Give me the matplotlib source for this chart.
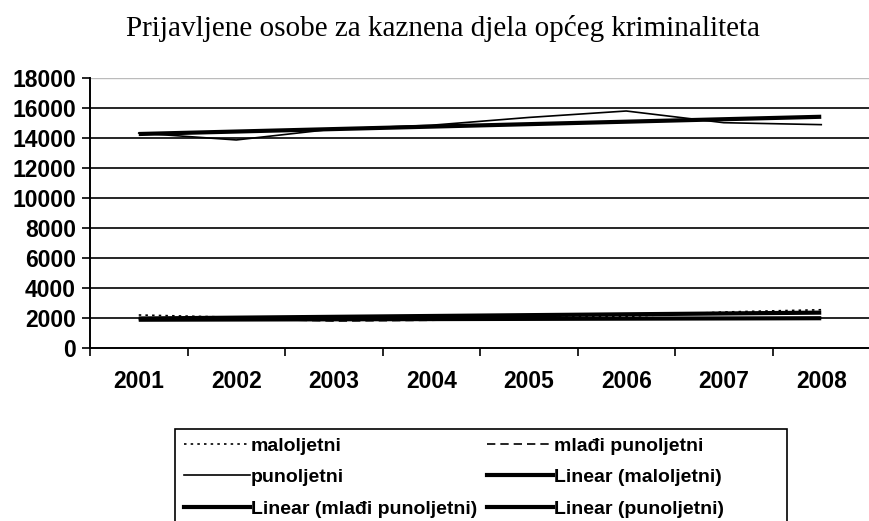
import numpy as np
import matplotlib
matplotlib.use('Agg')
import matplotlib.pyplot as plt
from matplotlib.lines import Line2D
from matplotlib.patches import Rectangle

# godine i broj prijavljenih osoba
years = ['2001', '2002', '2003', '2004', '2005', '2006', '2007', '2008']
maloljetni = [2200, 2050, 1950, 2000, 2050, 2100, 2400, 2550]
mladi_punoljetni = [1950, 1950, 1800, 1850, 1950, 2000, 1980, 2000]
punoljetni = [14330, 13870, 14600, 14850, 15370, 15800, 15020, 14890]

y_ticks = list(range(0, 18001, 2000))

plt.rcParams['font.family'] = ['Liberation Sans', 'DejaVu Sans']

W, H = 869, 521
fig = plt.figure(figsize=(W / 100, H / 100), dpi=100)
ax = fig.add_axes([90 / W, 1 - 348 / H, 780 / W, 270 / H])

x = np.arange(len(years))

# linearni trendovi
def trend(values):
    k, b = np.polyfit(x, values, 1)
    return k * x + b

ax.plot(x, trend(maloljetni), color='black', lw=3, solid_capstyle='butt', zorder=3)
ax.plot(x, trend(mladi_punoljetni), color='black', lw=3, solid_capstyle='butt', zorder=3)
ax.plot(x, trend(punoljetni), color='black', lw=3, solid_capstyle='butt', zorder=3)

ax.plot(x, maloljetni, color='black', lw=1.2, linestyle=(0, (1.5, 2.5)), zorder=4)
ax.plot(x, mladi_punoljetni, color='black', lw=1.2, linestyle=(0, (5, 3)), zorder=4)
ax.plot(x, punoljetni, color='black', lw=1.2, zorder=4)

ax.set_xlim(-0.5, len(years) - 0.5)
ax.set_ylim(0, 18000)
ax.set_yticks(y_ticks)
ax.set_yticklabels([str(v) for v in y_ticks], fontsize=16.5, fontweight='bold')
for v in y_ticks[1:-1]:
    ax.axhline(v, color='black', lw=1.2, zorder=1)
ax.axhline(18000, color='#bbbbbb', lw=1, zorder=1)

ax.set_xticks(x)
ax.set_xticklabels(years, fontsize=16.5, fontweight='bold')
ax.set_xticks(np.arange(-0.5, len(years)), minor=True)
ax.tick_params(axis='x', which='major', length=0, pad=16)
ax.tick_params(axis='x', which='minor', length=6, width=1.2, direction='out')
ax.tick_params(axis='y', length=6, width=1.2, direction='out', pad=4)

for side in ['top', 'right']:
    ax.spines[side].set_visible(False)
for side in ['left', 'bottom']:
    ax.spines[side].set_linewidth(1.4)

fig.text(443 / W, 1 - 28 / H, 'Prijavljene osobe za kaznena djela općeg kriminaliteta',
         ha='center', va='center', fontsize=21, family=['Liberation Serif', 'DejaVu Serif'])

handles = [
    Line2D([], [], color='black', lw=1.2, linestyle=(0, (1.5, 2.5))),
    Line2D([], [], color='black', lw=1.2),
    Line2D([], [], color='black', lw=3),
    Line2D([], [], color='black', lw=1.2, linestyle=(0, (5, 3))),
    Line2D([], [], color='black', lw=3),
    Line2D([], [], color='black', lw=3),
]
labels = ['maloljetni', 'punoljetni', 'Linear (mlađi punoljetni)',
          'mlađi punoljetni', 'Linear (maloljetni)', 'Linear (punoljetni)']
leg = fig.legend(handles, labels, ncol=2, loc='upper left',
                 bbox_to_anchor=(184 / W, 1 - 437 / H),
                 prop={'size': 14, 'weight': 'bold'},
                 frameon=False,
                 handlelength=3.4, handletextpad=0.05, columnspacing=0.5,
                 labelspacing=0.72, borderpad=0, borderaxespad=0)

# okvir legende, siri od sadrzaja kao u Excelu
fig.patches.append(Rectangle((175 / W, -10 / H), (787 - 175) / W, (10 + 521 - 429) / H,
                             transform=fig.transFigure, fill=False,
                             edgecolor='black', lw=1.2))

fig.savefig('out.png', dpi=100)
